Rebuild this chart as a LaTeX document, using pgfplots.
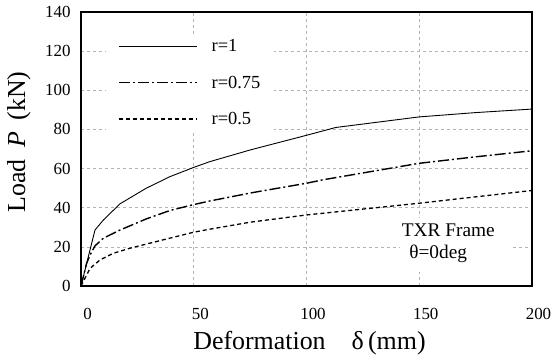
\documentclass[border=0pt]{standalone}
\usepackage{pgfplots}
\pgfplotsset{compat=1.18}
\usepackage{fontspec}
\setmainfont{Liberation Serif}

\begin{document}
\begin{tikzpicture}
\useasboundingbox (0,0) rectangle (551bp,358bp);
\begin{axis}[
  at={(81bp,72bp)}, anchor=south west,
  width=451bp, height=274bp, scale only axis,
  xmin=0, xmax=200, ymin=0, ymax=140,
  xtick={0,50,...,200}, ytick={0,20,...,140},
  major tick length=0pt,
  grid=major,
  grid style={gray!60, dash pattern=on 3bp off 3bp, line width=0.6bp},
  axis line style={line width=1.1bp},
  tick label style={font=\fontsize{17}{20}\selectfont},
  /pgf/number format/assume math mode=true,
  xticklabel style={yshift=-19bp, xshift=6.5bp},
  yticklabel style={xshift=-7bp},
  xlabel={Deformation\hspace{1em}δ\,(mm)},
  ylabel={Load\hspace{0.45em}\textit{P}\hspace{0.45em}(kN)},
  label style={font=\fontsize{26}{30}\selectfont},
  xlabel style={at={(axis description cs:0.5066,-0.208)}, anchor=center},
  ylabel style={at={(axis description cs:-0.1375,0.5255)}, anchor=center},
  legend style={at={(rel axis cs:0.0555,0.918)}, anchor=north west, fill=white, draw=none,
    font=\fontsize{18.5}{22}\selectfont, row sep=18.5bp, cells={anchor=west},
    nodes={inner ysep=2bp},
    /tikz/every odd column/.append style={column sep=12bp},
    inner xsep=12bp, inner ysep=3bp},
  legend image code/.code={\draw[#1] (0bp,0bp) -- (78bp,0bp);},
]
\addplot[black, line width=0.9bp] coordinates {
(0,0) (6.2,28.6) (9.9,33.7) (17.3,42) (29,50) (39.5,55.9) (50,60.6) (57,63.5) (75,69.5) (100,77) (113,81) (150,86.4) (175,88.6) (200,90.4)};
\addlegendentry{r=1}
\addplot[black, line width=1.4bp, dash pattern=on 11bp off 3bp on 2bp off 3bp] coordinates {
(0,0) (2.5,11.6) (4,15.8) (6.2,20.5) (9.9,24.4) (17.3,28.6) (29,34.3) (39.5,38.6) (50,41.6) (57,43.4) (75,47.5) (100,52.5) (107,54.2) (150,62.7) (175,66) (200,69.1)};
\addlegendentry{r=0.75}
\addplot[black, line width=1.3bp, dash pattern=on 4bp off 3bp] coordinates {
(0,0) (4,9) (8.4,13.3) (14.3,16.7) (21.7,19.3) (36.5,23.6) (50,27.5) (57,29) (75,32.6) (100,36.3) (150,42.3) (200,48.8)};
\addlegendentry{r=0.5}
\node[fill=white, minimum width=112bp, minimum height=54bp, inner sep=0pt] at (axis cs:166.3,20.95) {};
\node[anchor=base west, font=\fontsize{19.4}{22}\selectfont, inner sep=0pt] at (axis cs:142.2,25.2) {TXR Frame};
\node[anchor=base west, font=\fontsize{19.4}{22}\selectfont, inner sep=0pt] at (axis cs:145.5,13.8) {θ=0deg};
\end{axis}
\end{tikzpicture}
\end{document}
